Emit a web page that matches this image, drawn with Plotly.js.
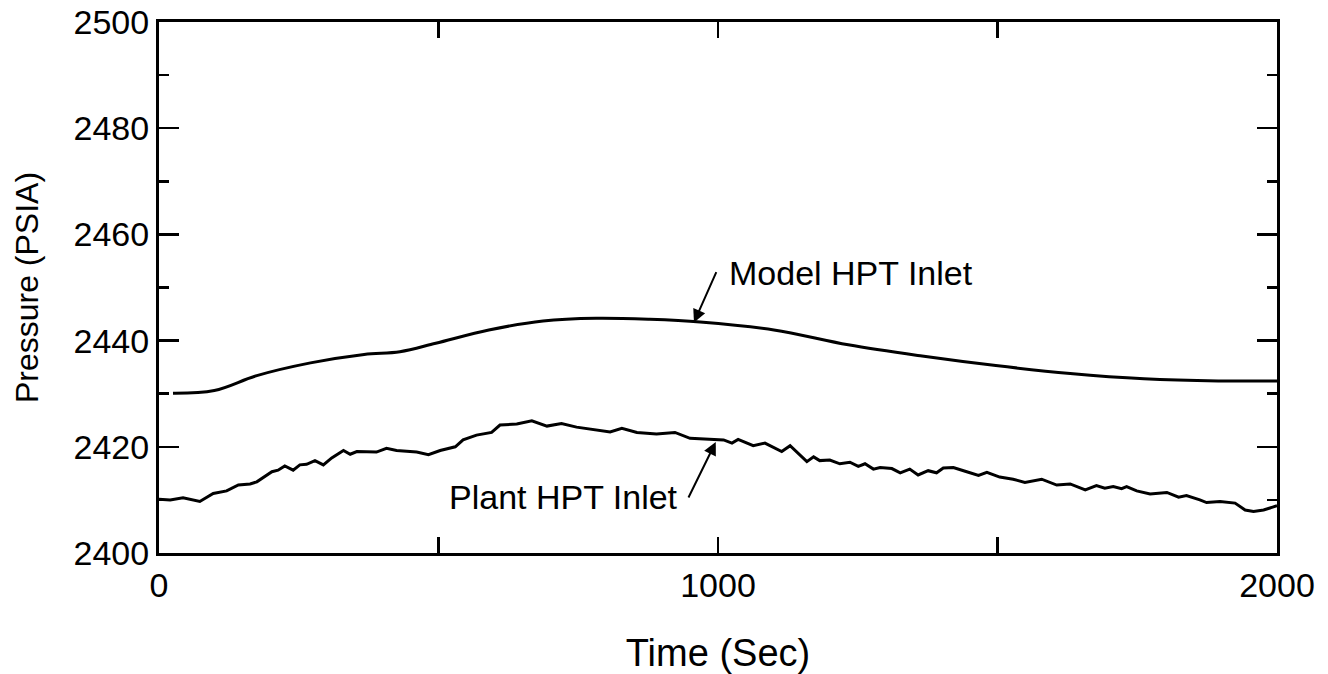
<!DOCTYPE html>
<html>
<head>
<meta charset="utf-8">
<script src="https://cdn.plot.ly/plotly-3.0.1.min.js"></script>
<style>html,body{margin:0;padding:0;background:#fff;}#chart{width:1328px;height:674px;}</style>
</head>
<body>
<div id="chart"></div>
<script>
// Model HPT Inlet (smooth)
const modelTime = [25, 99, 175, 271, 367, 431, 495, 590, 687, 782, 878, 968, 1100, 1233, 1365, 1497, 1630, 1762, 1895, 2000];
const modelPressure = [2430.1, 2430.6, 2433.4, 2435.8, 2437.4, 2437.9, 2439.5, 2442.0, 2443.7, 2444.2, 2444.0, 2443.5, 2442.0, 2439.2, 2437.1, 2435.3, 2433.8, 2432.8, 2432.4, 2432.4];

// Plant HPT Inlet (noisy)
const plantTime = [0, 20, 43, 73, 97, 121, 142, 163, 175, 202, 213, 225, 240, 252, 264, 279, 294, 309, 330, 342, 354, 389, 407, 425, 461, 482, 503,
  530, 544, 568, 595, 610, 640, 667, 694, 720, 747, 777, 807, 828, 855, 890, 923, 950, 980, 992, 1010, 1025, 1036, 1063, 1084, 1114, 1129,
  1159, 1171, 1182, 1200, 1218, 1236, 1251, 1263, 1278, 1290, 1311, 1326, 1343, 1358, 1376, 1391, 1403, 1421, 1445, 1466, 1481, 1504,
  1528, 1549, 1579, 1606, 1630, 1657, 1677, 1692, 1707, 1722, 1731, 1749, 1773, 1803, 1824, 1838, 1862, 1874, 1898, 1925, 1943, 1958, 1976, 2000];
const plantPressure = [2410.1, 2410.0, 2410.4, 2409.7, 2411.2, 2411.7, 2412.8, 2413.0, 2413.4, 2415.3, 2415.6, 2416.4, 2415.6, 2416.6, 2416.7, 2417.4, 2416.6, 2417.9, 2419.3, 2418.6, 2419.1, 2419.0, 2419.7, 2419.3, 2419.0, 2418.5, 2419.3,
  2420.0, 2421.3, 2422.2, 2422.7, 2424.1, 2424.3, 2424.9, 2423.9, 2424.4, 2423.7, 2423.3, 2422.8, 2423.5, 2422.7, 2422.4, 2422.7, 2421.6, 2421.4, 2421.4, 2421.3, 2420.7, 2421.4, 2420.2, 2420.7, 2419.1, 2420.2,
  2417.2, 2418.1, 2417.4, 2417.5, 2416.8, 2417.1, 2416.3, 2416.8, 2415.8, 2416.1, 2415.9, 2415.1, 2415.8, 2414.7, 2415.5, 2415.1, 2416.0, 2416.1, 2415.3, 2414.6, 2415.2, 2414.3,
  2413.9, 2413.3, 2413.9, 2412.8, 2413.0, 2411.9, 2412.7, 2412.2, 2412.5, 2412.1, 2412.5, 2411.7, 2411.1, 2411.4, 2410.5, 2410.8, 2410.0, 2409.5, 2409.7, 2409.4, 2408.1, 2407.8, 2408.1, 2408.9];

const xTickVals = [0, 500, 1000, 1500, 2000];
const xTickText = ['0', '', '1000', '', '2000'];
const yTickVals = [2400, 2420, 2440, 2460, 2480, 2500];
const yTickText = ['2400', '2420', '2440', '2460', '2480', '2500'];

const FONT = 'Liberation Sans, Arial, Helvetica, sans-serif';

const traces = [
  {x: modelTime, y: modelPressure, mode: 'lines', line: {color: '#000', width: 3, shape: 'spline', smoothing: 1}, name: 'Model HPT Inlet', hoverinfo: 'skip'},
  {x: plantTime, y: plantPressure, mode: 'lines', line: {color: '#000', width: 3}, name: 'Plant HPT Inlet', hoverinfo: 'skip'}
];

const layout = {
  width: 1328, height: 674,
  margin: {l: 159, r: 51, t: 22, b: 121},
  paper_bgcolor: '#fff', plot_bgcolor: '#fff',
  showlegend: false,
  font: {family: FONT, color: '#000', size: 34},
  xaxis: {
    range: [0, 2000], tickvals: xTickVals, ticktext: xTickText,
    ticks: 'inside', ticklen: 16, tickwidth: 2.5, tickcolor: '#000',
    showline: true, linewidth: 3, linecolor: '#000', mirror: 'ticks',
    showgrid: false, zeroline: false,
    tickfont: {size: 34, family: FONT},
    title: {text: 'Time (Sec)', font: {size: 38, family: FONT}, standoff: 38}
  },
  yaxis: {
    range: [2400, 2500], tickvals: yTickVals, ticktext: yTickText,
    ticks: 'inside', ticklen: 20, tickwidth: 2.5, tickcolor: '#000',
    minor: {dtick: 10, tick0: 2400, ticks: 'inside', ticklen: 10, tickwidth: 2.5, tickcolor: '#000', showgrid: false},
    showline: true, linewidth: 3, linecolor: '#000', mirror: 'ticks',
    showgrid: false, zeroline: false,
    tickfont: {size: 34, family: FONT},
    title: {text: 'Pressure (PSIA)', font: {size: 32, family: FONT}, standoff: 26}
  },
  annotations: [
    {x: 957, y: 2443.4, xref: 'x', yref: 'y', text: '', showarrow: true, arrowhead: 2, arrowsize: 1.3, arrowwidth: 2, arrowcolor: '#000', ax: 23, ay: -52},
    {x: 1016, y: 2452.7, xref: 'x', yref: 'y', text: 'Model HPT Inlet', showarrow: false, xanchor: 'left', yanchor: 'middle', font: {size: 34, family: FONT}},
    {x: 996, y: 2420.9, xref: 'x', yref: 'y', text: '', showarrow: true, arrowhead: 2, arrowsize: 1.3, arrowwidth: 2, arrowcolor: '#000', ax: -28, ay: 57},
    {x: 932, y: 2410.5, xref: 'x', yref: 'y', text: 'Plant HPT Inlet', showarrow: false, xanchor: 'right', yanchor: 'middle', font: {size: 34, family: FONT}}
  ]
};

Plotly.newPlot('chart', traces, layout, {displayModeBar: false, staticPlot: true});
</script>
</body>
</html>
